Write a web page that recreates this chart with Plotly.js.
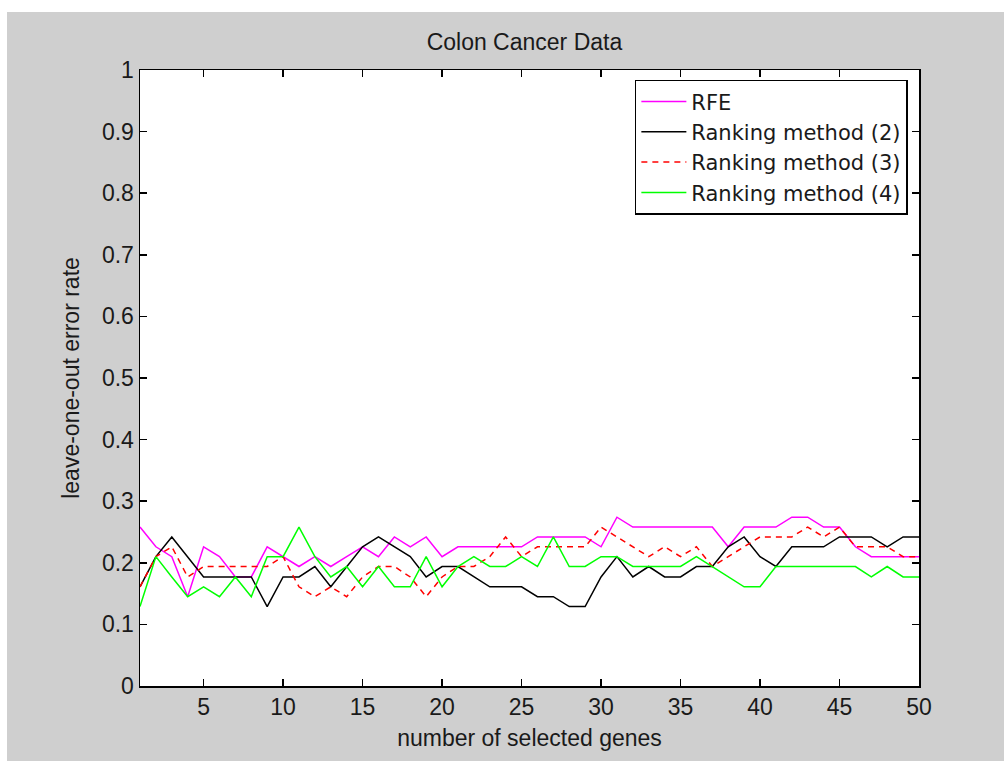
<!DOCTYPE html>
<html>
<head>
<meta charset="utf-8">
<script src="https://cdn.plot.ly/plotly-3.0.1.min.js"></script>
<style>
  html, body { margin: 0; padding: 0; background: #ffffff; }
  #chart { position: absolute; left: 7px; top: 12px; width: 997px; height: 749px; }
</style>
</head>
<body>
<div id="chart"></div>
<script>
const genes = Array.from({length: 50}, (_, i) => i + 1);

const rfe = [0.258,0.226,0.210,0.145,0.226,0.210,0.177,0.177,0.226,0.210,
             0.194,0.210,0.194,0.210,0.226,0.210,0.242,0.226,0.242,0.210,
             0.226,0.226,0.226,0.226,0.226,0.242,0.242,0.242,0.242,0.226,
             0.274,0.258,0.258,0.258,0.258,0.258,0.258,0.226,0.258,0.258,
             0.258,0.274,0.274,0.258,0.258,0.226,0.210,0.210,0.210,0.210];

const rank2 = [0.161,0.210,0.242,0.210,0.177,0.177,0.177,0.177,0.129,0.177,
               0.177,0.194,0.161,0.194,0.226,0.242,0.226,0.210,0.177,0.194,
               0.194,0.177,0.161,0.161,0.161,0.145,0.145,0.129,0.129,0.177,
               0.210,0.177,0.194,0.177,0.177,0.194,0.194,0.226,0.242,0.210,
               0.194,0.226,0.226,0.226,0.242,0.242,0.242,0.226,0.242,0.242];

const rank3 = [0.161,0.210,0.226,0.177,0.194,0.194,0.194,0.194,0.194,0.210,
               0.161,0.145,0.161,0.145,0.177,0.194,0.194,0.177,0.145,0.177,
               0.194,0.194,0.210,0.242,0.210,0.226,0.226,0.226,0.226,0.258,
               0.242,0.226,0.210,0.226,0.210,0.226,0.194,0.210,0.226,0.242,
               0.242,0.242,0.258,0.242,0.258,0.226,0.226,0.226,0.210,0.210];

const rank4 = [0.129,0.210,0.177,0.145,0.161,0.145,0.177,0.145,0.210,0.210,
               0.258,0.210,0.177,0.194,0.161,0.194,0.161,0.161,0.210,0.161,
               0.194,0.210,0.194,0.194,0.210,0.194,0.242,0.194,0.194,0.210,
               0.210,0.194,0.194,0.194,0.194,0.210,0.194,0.177,0.161,0.161,
               0.194,0.194,0.194,0.194,0.194,0.194,0.177,0.194,0.177,0.177];

const seriesNames = ['RFE', 'Ranking method (2)', 'Ranking method (3)', 'Ranking method (4)'];
const xTickVals = [5, 10, 15, 20, 25, 30, 35, 40, 45, 50];
const yTickVals = [0, 0.1, 0.2, 0.3, 0.4, 0.5, 0.6, 0.7, 0.8, 0.9, 1];
const yTickText = ['0', '0.1', '0.2', '0.3', '0.4', '0.5', '0.6', '0.7', '0.8', '0.9', '1'];

const FONT = 'Liberation Sans, Arial, sans-serif';
const LEGFONT = 'DejaVu Sans, Liberation Sans, sans-serif';
const TXT = '#1a1a1a';

const traces = [
  {x: genes, y: rfe,   name: seriesNames[0], mode: 'lines', line: {color: '#ff00ff', width: 1.5}},
  {x: genes, y: rank2, name: seriesNames[1], mode: 'lines', line: {color: '#000000', width: 1.5}},
  {x: genes, y: rank3, name: seriesNames[2], mode: 'lines', line: {color: '#ff0000', width: 1.5, dash: '6px,5px'}},
  {x: genes, y: rank4, name: seriesNames[3], mode: 'lines', line: {color: '#00ff00', width: 1.5}}
];

const axisCommon = {
  showgrid: false, zeroline: false, showline: true, linecolor: '#000', linewidth: 1.5,
  mirror: 'ticks', ticks: 'inside', ticklen: 7, tickwidth: 1.5, tickcolor: '#000',
  tickfont: {family: FONT, size: 23, color: TXT}, automargin: false
};

const layout = {
  width: 997, height: 749,
  paper_bgcolor: '#cfcfcf', plot_bgcolor: '#ffffff',
  margin: {l: 132.5, r: 84.5, t: 58, b: 75},
  showlegend: true,
  title: {text: 'Colon Cancer Data', font: {family: FONT, size: 23, color: TXT},
          x: 0.519, xanchor: 'center', y: 0.96, yanchor: 'middle', xref: 'container', yref: 'container'},
  xaxis: Object.assign({}, axisCommon, {
    range: [1, 50], tickvals: xTickVals,
    title: {text: 'number of selected genes', font: {family: FONT, size: 23, color: TXT}, standoff: 11}
  }),
  yaxis: Object.assign({}, axisCommon, {
    range: [0, 1], tickvals: yTickVals, ticktext: yTickText,
    title: {text: 'leave-one-out error rate', font: {family: FONT, size: 23, color: TXT}, standoff: 16}
  }),
  legend: {
    x: 0.9857, xanchor: 'right', y: 0.984, yanchor: 'top',
    bgcolor: '#ffffff', bordercolor: '#000', borderwidth: 1.5,
    font: {family: LEGFONT, size: 21, color: TXT}, itemwidth: 45, tracegroupgap: 0
  }
};

Plotly.newPlot('chart', traces, layout, {displayModeBar: false, staticPlot: true});
</script>
</body>
</html>
